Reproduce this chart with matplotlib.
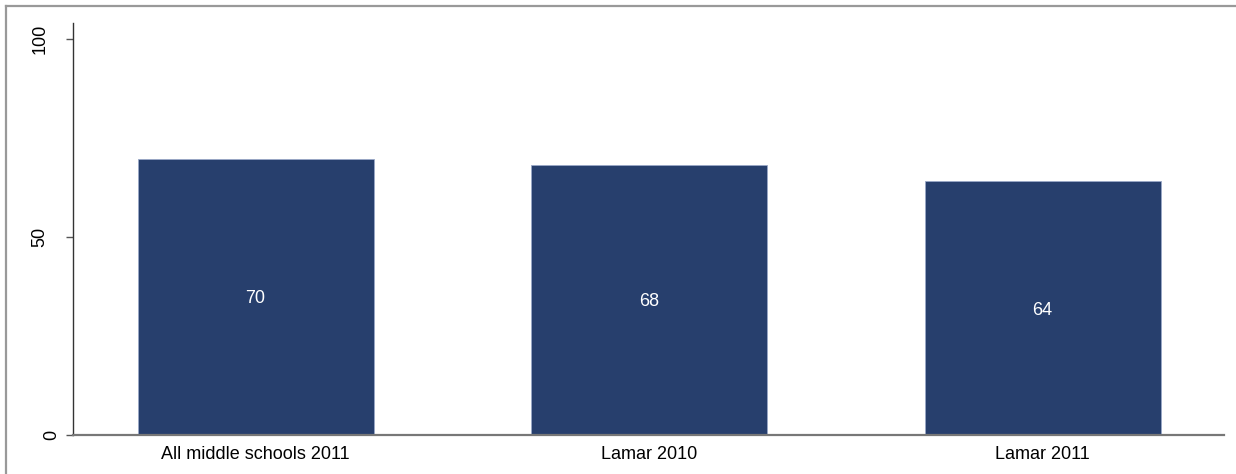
import matplotlib
matplotlib.use("Agg")
import matplotlib.pyplot as plt
import matplotlib.transforms as mtransforms
from matplotlib.lines import Line2D
import numpy as np

categories = ["All middle schools 2011", "Lamar 2010", "Lamar 2011"]
values = [69.7, 68.2, 64.1]
value_labels = ["70", "68", "64"]
yticks = [0, 50, 100]
ytick_labels = ["0", "50", "100"]

plt.rcParams.update({
    "font.family": ["Liberation Sans", "DejaVu Sans"],
    "font.size": 13,
})

BAR_COLOR = "#273f6d"

fig = plt.figure(figsize=(12.36, 4.74), dpi=100)
fig.patch.set_facecolor("white")
ax = fig.add_axes([73 / 1236, 39 / 474, (1224 - 73) / 1236, (435 - 23) / 474])

x = np.arange(len(categories))
ax.bar(x, values, width=0.6, color=BAR_COLOR, edgecolor="#9aa8c8",
       linewidth=0.6, zorder=2)

for xi, v, lab in zip(x, values, value_labels):
    ax.text(xi, v / 2, lab, ha="center", va="center_baseline", color="white",
            fontsize=13, zorder=3)

ax.set_xlim(-0.464, 2.461)
ax.set_ylim(0, 104)

ax.set_xticks(x)
ax.set_xticklabels(categories)
ax.tick_params(axis="x", length=0, pad=8, labelsize=13)

ax.set_yticks(yticks)
ax.set_yticklabels(ytick_labels, rotation=90, va="center", ha="center")
ax.tick_params(axis="y", length=5, width=1, color="#555555", pad=0, labelsize=13)

# per-label horizontal placement (centre x in pixels) as in the reference
centres_px = {"0": 54, "50": 42, "100": 42}
for lab in ax.get_yticklabels():
    cx = centres_px.get(lab.get_text(), 42)
    dx = (cx - 68) / 100.0
    lab.set_transform(lab.get_transform() + mtransforms.ScaledTranslation(dx, 0, fig.dpi_scale_trans))

ax.spines["top"].set_visible(False)
ax.spines["right"].set_visible(False)
ax.spines["left"].set_color("#333333")
ax.spines["left"].set_linewidth(1.0)
ax.spines["bottom"].set_color("#777777")
ax.spines["bottom"].set_linewidth(1.6)

# outer frame (top and left edges visible)
fig.add_artist(Line2D([6 / 1236, 1.0], [1 - 5.5 / 474, 1 - 5.5 / 474],
                      transform=fig.transFigure, color="#999999", linewidth=1.6))
fig.add_artist(Line2D([6 / 1236, 6 / 1236], [0.0, 1 - 5.5 / 474],
                      transform=fig.transFigure, color="#999999", linewidth=1.6))

plt.savefig("out.png", dpi=100, facecolor=fig.get_facecolor())
plt.close()
